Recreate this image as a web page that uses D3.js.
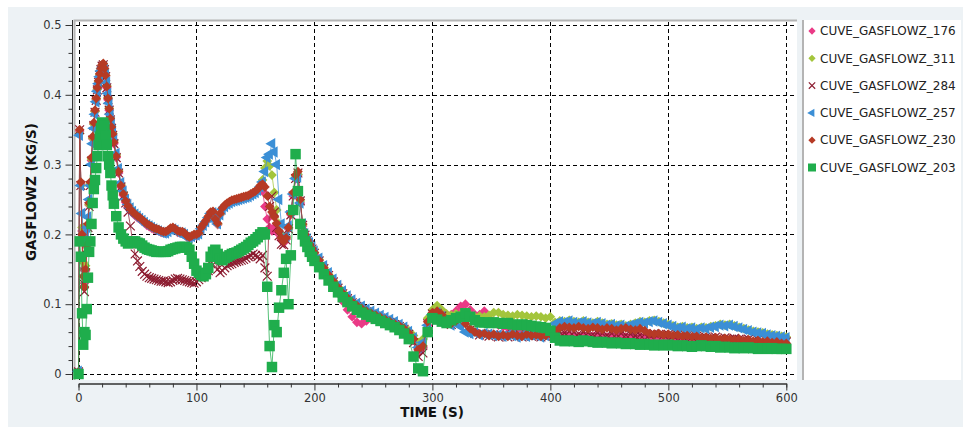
<!DOCTYPE html>
<html>
<head>
<meta charset="utf-8">
<script src="https://cdn.jsdelivr.net/npm/d3@7"></script>
<style>
  body { margin: 0; background: #fff; }
  text { font-family: "DejaVu Sans", sans-serif; }
</style>
</head>
<body>
<svg id="chart" width="963" height="427"></svg>
<script>
// time (s)
var time = [
  0,1,2,3,4,5,6,7,8,9,10,11,12,13,14,15,16,17,18,19,20,21,22,23,24,25,26,27,28,29,30,
  32,34,36,38,40,42,44,46,48,50,52,54,56,58,60,62,64,66,68,70,72,74,76,78,80,82,84,86,88,90,92,94,96,98,100,
  102,104,106,108,110,112,114,116,118,120,122,124,126,128,130,132,134,136,138,140,142,144,146,148,150,
  152,154,156,158,160,162,164,166,168,170,172,174,176,178,180,182,184,186,188,190,192,194,196,198,200,
  204,208,212,216,220,224,228,232,236,240,244,248,252,256,260,264,268,272,276,280,284,288,292,296,300,
  304,308,312,316,320,324,328,332,336,340,344,348,352,356,360,364,368,372,376,380,384,388,392,396,400,
  404,408,412,416,420,424,428,432,436,440,444,448,452,456,460,464,468,472,476,480,484,488,492,496,500,
  504,508,512,516,520,524,528,532,536,540,544,548,552,556,560,564,568,572,576,580,584,588,592,596,600
];

var flow176 = [
  0.003,0.348,0.272,0.205,0.15,0.13,0.148,0.182,0.212,0.242,0.272,0.306,0.337,0.358,0.376,0.393,0.408,0.418,0.428,0.436,0.441,0.443,0.437,0.427,0.41,0.393,0.378,0.364,0.352,0.342,0.33,
  0.31,0.288,0.268,0.256,0.246,0.239,0.234,0.23,0.227,0.224,
  0.222,0.219,0.216,0.213,0.211,0.209,0.207,0.206,0.205,0.203,
  0.202,0.202,0.204,0.207,0.208,0.206,0.203,0.202,0.202,0.2,
  0.196,0.194,0.196,0.198,0.198,0.2,0.208,0.213,0.218,0.224,
  0.23,0.231,0.22,0.214,0.228,0.236,0.24,0.243,0.245,0.247,
  0.248,0.249,0.25,0.251,0.252,0.253,0.254,0.256,0.258,0.26,
  0.263,0.266,0.262,0.24,0.222,0.21,0.205,0.21,0.205,0.2,
  0.192,0.188,0.193,0.208,0.228,0.255,0.28,0.285,0.245,0.212,
  0.198,0.19,0.184,0.178,0.172,
  0.16,0.148,0.137,0.127,0.116,0.104,0.092,0.082,0.074,0.072,
  0.076,0.08,0.079,0.077,0.075,0.072,0.069,0.066,0.062,0.056,
  0.048,0.033,0.038,0.07,0.082,0.085,0.08,0.083,0.085,0.09,
  0.097,0.1,0.092,0.085,0.085,0.09,0.08,0.073,0.07,0.068,
  0.066,0.065,0.063,0.062,0.061,0.06,0.059,0.058,0.057,0.056,
  0.056,0.055,0.057,0.056,0.055,0.054,0.056,0.055,0.054,0.056,
  0.055,0.053,0.055,0.054,0.055,0.053,0.054,0.052,0.053,0.054,
  0.052,0.053,0.052,0.051,0.052,0.05,0.051,0.05,0.049,0.05,
  0.049,0.048,0.049,0.048,0.047,0.048,0.047,0.046,0.047,0.046,
  0.045,0.046,0.045,0.044,0.045,0.044,0.043,0.044,0.043,0.043
];

var flow311 = [
  0.003,0.345,0.27,0.21,0.16,0.14,0.155,0.185,0.213,0.243,0.273,0.308,0.338,0.358,0.376,0.394,0.408,0.419,0.429,0.437,0.442,0.444,0.437,0.428,0.413,0.396,0.381,0.367,0.355,0.345,0.334,
  0.314,0.292,0.272,0.26,0.249,0.242,0.237,0.233,0.23,0.227,
  0.224,0.221,0.218,0.215,0.213,0.211,0.209,0.207,0.206,0.204,
  0.203,0.203,0.205,0.208,0.209,0.207,0.204,0.203,0.203,0.201,
  0.197,0.195,0.197,0.199,0.199,0.201,0.209,0.214,0.219,0.225,
  0.231,0.232,0.221,0.215,0.229,0.237,0.241,0.244,0.246,0.248,
  0.249,0.25,0.251,0.252,0.253,0.254,0.255,0.257,0.259,0.261,
  0.264,0.269,0.278,0.295,0.305,0.298,0.285,0.26,0.235,0.215,
  0.2,0.192,0.196,0.21,0.23,0.258,0.282,0.286,0.248,0.214,
  0.2,0.192,0.186,0.18,0.174,
  0.164,0.153,0.143,0.134,0.125,0.117,0.11,0.104,0.099,0.095,
  0.091,0.088,0.085,0.082,0.079,0.076,0.073,0.07,0.066,0.062,
  0.055,0.045,0.05,0.08,0.092,0.098,0.092,0.086,0.084,0.086,
  0.085,0.088,0.084,0.082,0.083,0.082,0.084,0.088,0.088,0.085,
  0.084,0.083,0.085,0.084,0.083,0.082,0.083,0.082,0.08,0.082,
  0.074,0.076,0.075,0.077,0.075,0.074,0.076,0.074,0.073,0.075,
  0.073,0.071,0.072,0.07,0.071,0.069,0.071,0.073,0.075,0.074,
  0.076,0.077,0.075,0.073,0.071,0.069,0.067,0.068,0.066,0.067,
  0.065,0.067,0.066,0.068,0.069,0.071,0.07,0.071,0.069,0.067,
  0.065,0.063,0.061,0.06,0.059,0.057,0.056,0.055,0.054,0.053
];

var flow284 = [
  0.003,0.35,0.27,0.19,0.13,0.118,0.145,0.18,0.21,0.24,0.27,0.305,0.335,0.356,0.375,0.392,0.407,0.418,0.428,0.436,0.441,0.443,0.436,0.426,0.41,0.393,0.378,0.364,0.352,0.342,0.33,
  0.31,0.288,0.268,0.255,0.245,0.232,0.212,0.188,0.172,0.162,
  0.154,0.147,0.143,0.14,0.138,0.137,0.136,0.135,0.134,0.133,
  0.133,0.132,0.131,0.132,0.134,0.136,0.137,0.136,0.135,0.134,
  0.133,0.132,0.131,0.13,0.132,0.135,0.138,0.14,0.143,0.148,
  0.158,0.165,0.16,0.15,0.145,0.148,0.152,0.155,0.157,0.158,
  0.16,0.161,0.162,0.163,0.164,0.166,0.168,0.17,0.172,0.17,
  0.168,0.165,0.17,0.152,0.14,0.24,0.255,0.232,0.21,0.198,
  0.186,0.185,0.192,0.208,0.228,0.255,0.28,0.288,0.248,0.213,
  0.199,0.191,0.185,0.179,0.173,
  0.162,0.151,0.141,0.132,0.123,0.115,0.108,0.102,0.097,0.093,
  0.089,0.086,0.083,0.08,0.077,0.074,0.071,0.068,0.064,0.057,
  0.045,0.025,0.03,0.072,0.086,0.087,0.083,0.077,0.071,0.075,
  0.078,0.07,0.063,0.058,0.056,0.057,0.054,0.056,0.053,0.055,
  0.053,0.056,0.054,0.053,0.056,0.054,0.055,0.053,0.054,0.056,
  0.058,0.06,0.059,0.061,0.06,0.058,0.06,0.059,0.057,0.059,
  0.058,0.056,0.058,0.057,0.058,0.056,0.057,0.055,0.056,0.057,
  0.056,0.058,0.057,0.056,0.057,0.055,0.056,0.054,0.055,0.053,
  0.054,0.052,0.053,0.052,0.053,0.051,0.052,0.05,0.051,0.05,
  0.049,0.05,0.048,0.049,0.047,0.048,0.046,0.047,0.045,0.046
];

var flow257 = [
  0.004,0.342,0.27,0.23,0.2,0.19,0.2,0.21,0.225,0.25,0.27,0.3,0.33,0.352,0.372,0.39,0.405,0.416,0.426,0.434,0.438,0.44,0.436,0.43,0.418,0.402,0.388,0.372,0.36,0.349,0.337,
  0.316,0.294,0.274,0.262,0.25,0.243,0.238,0.233,0.229,0.226,
  0.223,0.22,0.217,0.214,0.212,0.21,0.208,0.206,0.205,0.203,
  0.202,0.202,0.204,0.207,0.208,0.206,0.203,0.202,0.202,0.2,
  0.196,0.195,0.197,0.199,0.199,0.201,0.208,0.213,0.218,0.224,
  0.23,0.231,0.22,0.215,0.228,0.236,0.24,0.243,0.245,0.247,
  0.248,0.249,0.25,0.251,0.252,0.253,0.254,0.256,0.258,0.26,
  0.263,0.268,0.275,0.29,0.31,0.315,0.33,0.318,0.3,0.25,
  0.215,0.195,0.197,0.212,0.232,0.258,0.28,0.282,0.245,0.215,
  0.201,0.194,0.188,0.182,0.176,
  0.166,0.155,0.145,0.136,0.127,0.119,0.112,0.106,0.101,0.097,
  0.093,0.09,0.087,0.084,0.081,0.078,0.075,0.071,0.067,0.061,
  0.052,0.038,0.045,0.07,0.085,0.088,0.082,0.075,0.07,0.073,
  0.068,0.06,0.058,0.06,0.056,0.058,0.057,0.055,0.056,0.054,
  0.056,0.055,0.053,0.055,0.054,0.056,0.055,0.053,0.055,0.062,
  0.072,0.075,0.074,0.076,0.074,0.073,0.075,0.073,0.072,0.074,
  0.072,0.07,0.071,0.069,0.07,0.068,0.07,0.072,0.074,0.073,
  0.075,0.076,0.074,0.072,0.07,0.068,0.066,0.067,0.065,0.066,
  0.064,0.066,0.065,0.067,0.068,0.07,0.069,0.07,0.068,0.066,
  0.064,0.062,0.06,0.059,0.058,0.056,0.055,0.054,0.053,0.052
];

var flow230 = [
  0.003,0.35,0.275,0.2,0.14,0.125,0.15,0.185,0.215,0.245,0.275,0.31,0.34,0.36,0.378,0.395,0.41,0.42,0.43,0.438,0.443,0.445,0.438,0.428,0.412,0.395,0.38,0.366,0.354,0.344,0.332,
  0.312,0.29,0.27,0.258,0.248,0.241,0.236,0.232,0.229,0.226,
  0.224,0.221,0.218,0.215,0.213,0.211,0.209,0.208,0.207,0.205,
  0.204,0.204,0.206,0.209,0.21,0.208,0.205,0.204,0.204,0.202,
  0.198,0.196,0.198,0.2,0.2,0.202,0.21,0.215,0.22,0.226,
  0.232,0.233,0.222,0.216,0.23,0.238,0.242,0.245,0.247,0.249,
  0.25,0.251,0.252,0.253,0.254,0.255,0.256,0.258,0.26,0.262,
  0.265,0.27,0.272,0.268,0.255,0.24,0.232,0.225,0.216,0.205,
  0.195,0.19,0.195,0.21,0.23,0.26,0.285,0.29,0.25,0.215,
  0.2,0.192,0.186,0.18,0.174,
  0.163,0.152,0.142,0.133,0.124,0.116,0.109,0.103,0.098,0.094,
  0.09,0.087,0.084,0.081,0.078,0.075,0.072,0.069,0.065,0.059,
  0.05,0.035,0.04,0.075,0.088,0.09,0.085,0.078,0.072,0.076,
  0.08,0.072,0.065,0.06,0.057,0.058,0.055,0.057,0.054,0.056,
  0.054,0.057,0.055,0.054,0.057,0.055,0.056,0.054,0.055,0.057,
  0.062,0.066,0.068,0.067,0.066,0.068,0.066,0.065,0.067,0.066,
  0.064,0.066,0.065,0.063,0.065,0.066,0.064,0.063,0.065,0.062,
  0.058,0.057,0.058,0.056,0.057,0.055,0.056,0.054,0.055,0.053,
  0.054,0.052,0.053,0.051,0.052,0.05,0.051,0.05,0.049,0.05,
  0.048,0.049,0.047,0.048,0.046,0.047,0.045,0.046,0.044,0.044
];

var flow203 = [
  0.0,0.19,0.168,0.087,0.042,0.06,0.056,0.093,0.138,0.175,0.19,0.215,0.245,0.265,0.278,0.295,0.312,0.328,0.34,0.352,0.36,0.36,0.356,0.342,0.328,0.312,0.3,0.288,0.27,0.256,0.244,
  0.226,0.21,0.2,0.194,0.19,0.187,0.188,0.19,0.19,0.188,
  0.187,0.184,0.181,0.179,0.178,0.177,0.176,0.175,0.175,0.175,
  0.175,0.175,0.176,0.178,0.179,0.18,0.181,0.182,0.182,0.182,
  0.181,0.178,0.168,0.158,0.148,0.145,0.142,0.14,0.143,0.152,
  0.168,0.175,0.178,0.172,0.165,0.163,0.166,0.168,0.17,0.172,
  0.173,0.174,0.176,0.178,0.18,0.182,0.185,0.188,0.19,0.193,
  0.196,0.2,0.203,0.2,0.125,0.04,0.01,0.07,0.06,0.095,
  0.12,0.145,0.165,0.1,0.17,0.235,0.315,0.262,0.215,0.2,
  0.19,0.182,0.175,0.168,0.162,
  0.153,0.143,0.134,0.125,0.117,0.11,0.103,0.097,0.092,0.088,
  0.085,0.082,0.079,0.076,0.073,0.07,0.067,0.063,0.058,0.05,
  0.025,0.008,0.004,0.06,0.08,0.078,0.075,0.073,0.077,0.08,
  0.082,0.087,0.082,0.077,0.074,0.074,0.073,0.074,0.073,0.072,
  0.073,0.071,0.07,0.071,0.07,0.069,0.068,0.067,0.066,0.062,
  0.052,0.048,0.047,0.048,0.047,0.046,0.048,0.047,0.046,0.045,
  0.046,0.045,0.044,0.045,0.044,0.043,0.044,0.043,0.042,0.043,
  0.042,0.041,0.042,0.041,0.042,0.041,0.04,0.041,0.04,0.039,
  0.04,0.041,0.04,0.039,0.04,0.038,0.039,0.038,0.037,0.038,
  0.037,0.038,0.037,0.036,0.037,0.036,0.037,0.036,0.036,0.036
];

var seriesNames = ["CUVE_GASFLOWZ_176", "CUVE_GASFLOWZ_311", "CUVE_GASFLOWZ_284",
                   "CUVE_GASFLOWZ_257", "CUVE_GASFLOWZ_230", "CUVE_GASFLOWZ_203"];
var seriesValues = [flow176, flow311, flow284, flow257, flow230, flow203];
var xTicks = [0, 100, 200, 300, 400, 500, 600];
var yTicks = [0, 0.1, 0.2, 0.3, 0.4, 0.5];

var colors = ["#ea3a86", "#a3c53c", "#8c1c30", "#3b8fd6", "#b63a25", "#1fad4c"];
var symbols = [d3.symbolDiamond2 || d3.symbolDiamond, d3.symbolDiamond2 || d3.symbolDiamond,
               d3.symbolX || d3.symbolCross, d3.symbolTriangle,
               d3.symbolDiamond2 || d3.symbolDiamond, d3.symbolSquare];
var symSize = [60, 60, 52, 56, 60, 110];

var svg = d3.select("#chart");

// panel background
svg.append("rect").attr("x", 8).attr("y", 7).attr("width", 955).attr("height", 420).attr("fill", "#edf2f5");
svg.append("rect").attr("x", 73).attr("y", 20).attr("width", 724).attr("height", 360).attr("fill", "#fff");
svg.append("path").attr("d", "M74.5,380V20.5H797").attr("fill", "none").attr("stroke", "#b4b4b4").attr("stroke-width", 2);

var x = d3.scaleLinear().domain([0, 600]).range([78.5, 786.3]);
var y = d3.scaleLinear().domain([0, 0.5]).range([374, 25]);

// grid
var grid = svg.append("g").attr("stroke", "#000").attr("stroke-dasharray", "4,3").attr("stroke-width", 1);
xTicks.forEach(function(t) {
    grid.append("line").attr("x1", Math.round(x(t)) + 0.5).attr("x2", Math.round(x(t)) + 0.5)
        .attr("y1", 22).attr("y2", 380);
});
yTicks.forEach(function(v) {
    grid.append("line").attr("y1", Math.round(y(v)) + 0.5).attr("y2", Math.round(y(v)) + 0.5)
        .attr("x1", 76).attr("x2", 797);
});

// y axis
var yMinor = d3.range(0, 0.5001, 0.02).filter(function(v) { return Math.abs(v * 10 - Math.round(v * 10)) > 1e-6; });
var yAxis = svg.append("g").attr("transform", "translate(72.5,0)");
yAxis.call(d3.axisLeft(y).tickValues(yTicks).tickSize(7)
    .tickFormat(function(d) { return d === 0 ? "0" : d.toFixed(1); }));
yAxis.append("g").call(d3.axisLeft(y).tickValues(yMinor).tickSize(4).tickFormat(""));
yAxis.selectAll(".domain").remove();
yAxis.append("line").attr("x1", 0).attr("x2", 0).attr("y1", 20).attr("y2", 380).attr("stroke", "#333");
yAxis.selectAll("line").attr("stroke", "#333");
yAxis.selectAll("text").attr("font-size", 11.5).attr("fill", "#333").attr("x", -11)
    .attr("font-family", "DejaVu Sans");

// x axis
var xMinor = d3.range(0, 601, 20).filter(function(t) { return t % 100 !== 0; });
var xAxis = svg.append("g").attr("transform", "translate(0,383.5)");
xAxis.call(d3.axisBottom(x).tickValues(xTicks).tickSize(7).tickSizeOuter(0));
xAxis.append("g").call(d3.axisBottom(x).tickValues(xMinor).tickSize(4).tickFormat(""));
xAxis.selectAll(".domain").attr("stroke", "#333");
xAxis.selectAll("line").attr("stroke", "#333");
xAxis.selectAll("text").attr("font-size", 11.5).attr("fill", "#333").attr("y", 10)
    .attr("font-family", "DejaVu Sans");

// axis titles
svg.append("text").attr("x", 432).attr("y", 417).attr("text-anchor", "middle")
    .attr("font-size", 13.5).attr("font-weight", "bold").attr("fill", "#111").text("TIME (S)");
svg.append("text").attr("transform", "translate(36,192)rotate(-90)").attr("text-anchor", "middle")
    .attr("font-size", 13.5).attr("font-weight", "bold").attr("fill", "#111").text("GASFLOWZ (KG/S)");

// series
var plot = svg.append("g");
var line = d3.line()
    .x(function(d) { return x(d[0]); })
    .y(function(d) { return y(d[1]); });

seriesValues.forEach(function(vals, i) {
    var pts = time.map(function(t, k) { return [t, vals[k]]; })
        .filter(function(d) { return d[1] !== undefined; });
    var g = plot.append("g");
    g.append("path").datum(pts).attr("d", line)
        .attr("fill", "none").attr("stroke", colors[i]).attr("stroke-width", 1).attr("stroke-opacity", 0.75);
    var sym = d3.symbol().type(symbols[i]).size(symSize[i]);
    g.selectAll("path.pt").data(pts).enter().append("path")
        .attr("class", "pt")
        .attr("d", sym)
        .attr("transform", function(d) {
            return "translate(" + x(d[0]) + "," + y(d[1]) + ")" + (i === 3 ? "rotate(-90)" : "");
        })
        .attr("fill", i === 2 ? "none" : colors[i])
        .attr("stroke", i === 2 ? colors[i] : "none")
        .attr("stroke-width", 1.2);
});

// legend
svg.append("rect").attr("x", 802).attr("y", 20).attr("width", 159).attr("height", 360).attr("fill", "#fff");
svg.append("line").attr("x1", 803).attr("x2", 803).attr("y1", 20).attr("y2", 380)
    .attr("stroke", "#b4b4b4").attr("stroke-width", 2);

var legSize = [34, 34, 28, 30, 34, 64];
seriesNames.forEach(function(name, i) {
    var ly = 31 + i * 27.3;
    var sym = d3.symbol().type(symbols[i]).size(legSize[i]);
    svg.append("path").attr("d", sym)
        .attr("transform", "translate(812," + ly + ")" + (i === 3 ? "rotate(-90)" : ""))
        .attr("fill", i === 2 ? "none" : colors[i])
        .attr("stroke", i === 2 ? colors[i] : "none")
        .attr("stroke-width", 1.2);
    svg.append("text").attr("x", 820).attr("y", ly).attr("dy", "0.35em")
        .attr("font-size", 12).attr("fill", "#222").text(name);
});
</script>
</body>
</html>
